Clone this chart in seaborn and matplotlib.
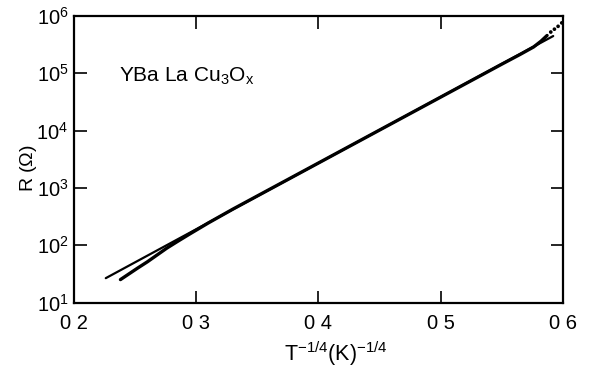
import numpy as np
import pandas as pd
import matplotlib
matplotlib.use("Agg")
import matplotlib.pyplot as plt
import seaborn as sns

# measured data, R vs T^-1/4
t_data = [0.238, 0.245, 0.252, 0.260, 0.268, 0.276, 0.285, 0.295, 0.310,
          0.330, 0.350, 0.370, 0.390, 0.410, 0.430, 0.450, 0.470, 0.490,
          0.510, 0.530, 0.550, 0.565, 0.576, 0.582, 0.587]
logR_data = [1.40, 1.50, 1.60, 1.71, 1.83, 1.95, 2.07, 2.20, 2.39,
             2.63, 2.86, 3.09, 3.32, 3.55, 3.78, 4.01, 4.24, 4.47,
             4.70, 4.93, 5.16, 5.33, 5.46, 5.56, 5.66]
# sparse dotted tail
t_tail = [0.590, 0.593, 0.596, 0.599]
logR_tail = [5.72, 5.77, 5.82, 5.88]
# straight-line fit
t_fit = [0.226, 0.592]
logR_fit = [1.425, 5.65]

df_data = pd.DataFrame({'t': t_data, 'R': 10 ** np.array(logR_data)})
df_tail = pd.DataFrame({'t': t_tail, 'R': 10 ** np.array(logR_tail)})
df_fit = pd.DataFrame({'t': t_fit, 'R': 10 ** np.array(logR_fit)})

xticks = [0.2, 0.3, 0.4, 0.5, 0.6]
xticklabels = ['0 2', '0 3', '0 4', '0 5', '0 6']
yticks = [1e1, 1e2, 1e3, 1e4, 1e5, 1e6]
yticklabels = ['10$^1$', '10$^2$', '10$^3$', '10$^4$', '10$^5$', '10$^6$']

sns.set_style("ticks")
plt.rcParams['font.family'] = ['Liberation Sans', 'DejaVu Sans']
plt.rcParams['mathtext.fontset'] = 'custom'
plt.rcParams['mathtext.rm'] = 'Liberation Sans'
plt.rcParams['mathtext.it'] = 'Liberation Sans'
plt.rcParams['mathtext.default'] = 'regular'
plt.rcParams['text.color'] = 'black'
plt.rcParams['axes.labelcolor'] = 'black'
plt.rcParams['xtick.color'] = 'black'
plt.rcParams['ytick.color'] = 'black'

fig = plt.figure(figsize=(5.9, 3.67), dpi=100)
ax = fig.add_axes([0.1254, 0.1757, 0.8288, 0.7807])

sns.lineplot(data=df_fit, x='t', y='R', ax=ax, color='black', linewidth=1.6)
sns.lineplot(data=df_data, x='t', y='R', ax=ax, color='black', linewidth=2.4)
sns.scatterplot(data=df_tail, x='t', y='R', ax=ax, color='black', s=7,
                edgecolor='none')

ax.set_yscale('log')
ax.set_xlim(0.2, 0.6)
ax.set_ylim(1e1, 1e6)
ax.set_xticks(xticks)
ax.set_xticklabels(xticklabels)
ax.set_yticks(yticks)
ax.set_yticklabels(yticklabels)
ax.minorticks_off()
ax.tick_params(axis='both', direction='in', length=9, width=1.2,
               top=True, right=True, labelsize=14.5)
ax.tick_params(axis='x', pad=8)
ax.tick_params(axis='y', pad=4)
for s in ax.spines.values():
    s.set_linewidth(1.6)
    s.set_color('black')

ax.set_xlabel('T$^{-1/4}$(K)$^{-1/4}$', fontsize=15.5)
ax.xaxis.set_label_coords(0.535, -0.13)
ax.set_ylabel('R ($\\Omega$)', fontsize=14)
ax.yaxis.set_label_coords(-0.071, 0.47)
ax.text(0.092, 0.79, 'YBa La Cu$_3$O$_x$', transform=ax.transAxes,
        fontsize=15, va='center', ha='left')

fig.savefig('out.png', dpi=100)
